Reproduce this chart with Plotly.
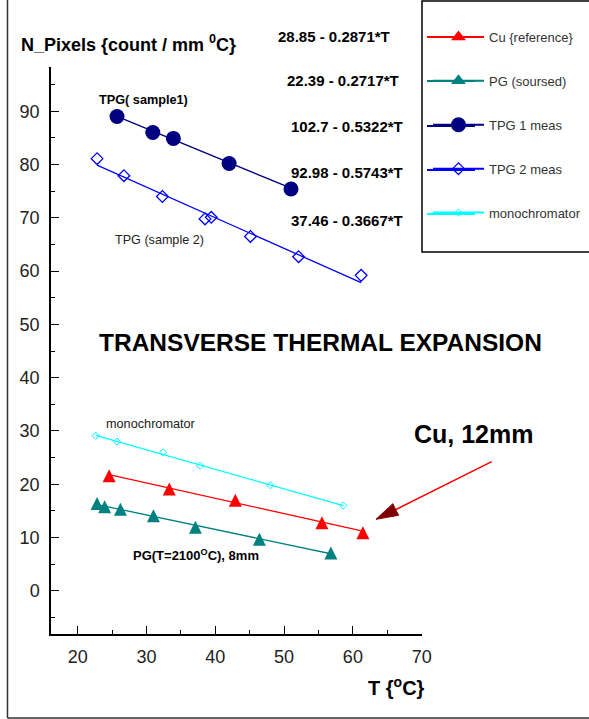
import plotly.graph_objects as go

# ---------------- data ----------------
cu_T = [24.55, 33.3, 42.9, 55.5, 61.45]
cu_N = [21.6, 19.1, 17.0, 12.8, 10.9]
pg_T = [22.8, 23.9, 26.2, 31.0, 37.1, 46.4, 56.8]
pg_N = [16.4, 15.8, 15.3, 14.1, 11.95, 9.7, 7.1]
tpg1_T = [25.7, 30.9, 33.9, 42.0, 51.0]
tpg1_N = [89.0, 86.0, 84.9, 80.2, 75.4]
tpg2_T = [22.8, 26.7, 32.3, 38.5, 39.4, 45.1, 52.1, 61.2]
tpg2_N = [81.1, 77.9, 74.0, 69.8, 70.1, 66.5, 62.7, 59.2]
mono_T = [22.6, 25.7, 32.4, 37.8, 48.0, 58.6]
mono_N = [29.1, 28.0, 26.0, 23.5, 19.8, 16.0]

series_names = ["Cu {reference}", "PG (soursed)", "TPG 1 meas", "TPG 2 meas", "monochromator"]
fit_intercepts = [28.85, 22.39, 102.7, 92.98, 37.46]
fit_slopes = [0.2871, 0.2717, 0.5322, 0.5743, 0.3667]
fit_labels = ["28.85 - 0.2871*T", "22.39 - 0.2717*T", "102.7 - 0.5322*T",
              "92.98 - 0.5743*T", "37.46 - 0.3667*T"]

x_tickvals = [20, 30, 40, 50, 60, 70]
y_tickvals = [0, 10, 20, 30, 40, 50, 60, 70, 80, 90]

# ---------------- styling ----------------
FONT = "Liberation Sans, Arial, sans-serif"
L, R, T, B = 51, 422, 67, 634
W, H = R - L, B - T


def px(x):
    return (x - L) / W


def py(y):
    return (B - y) / H


styles = [
    dict(color="#FF0000", symbol="arrow-down", size=13, fill="#FF0000", lw=0, so=6.5),
    dict(color="#008080", symbol="arrow-down", size=13, fill="#008080", lw=0, so=6.5),
    dict(color="#000080", symbol="circle", size=15, fill="#000080", lw=0, so=0),
    dict(color="#0000FF", symbol="diamond-open", size=9, fill="#0000FF", lw=1.3, so=0),
    dict(color="#00FFFF", symbol="diamond-open", size=5.5, fill="#00FFFF", lw=1, so=0),
]
all_T = [cu_T, pg_T, tpg1_T, tpg2_T, mono_T]
all_N = [cu_N, pg_N, tpg1_N, tpg2_N, mono_N]
legend_rows = [37, 81, 126, 170, 214]

fig = go.Figure()
shapes = []
for i in range(5):
    st = styles[i]
    t0, t1 = min(all_T[i]), max(all_T[i])
    a, b = fit_intercepts[i], fit_slopes[i]
    fig.add_trace(go.Scatter(
        x=[t0, t1], y=[a - b * t0, a - b * t1], mode="lines",
        line=dict(color=st["color"], width=1.3), showlegend=False, hoverinfo="skip"))
    mk = dict(symbol=st["symbol"], size=st["size"], color=st["fill"],
              line=dict(color=st["color"], width=st["lw"]))
    leg_mk = dict(mk)
    if st["so"]:
        mk["angle"] = 180
        mk["standoff"] = st["so"]
        leg_mk["symbol"] = "triangle-up"
        leg_mk["size"] = 13
    fig.add_trace(go.Scatter(x=all_T[i], y=all_N[i], mode="markers",
                             showlegend=False, marker=mk))
    # legend entry
    fig.add_trace(go.Scatter(
        x=[None], y=[None], mode="lines+markers", name=series_names[i],
        legendgroup="g%d" % i, line=dict(color=st["color"], width=2), marker=leg_mk))
    # longer legend sample line
    shapes.append(dict(type="line", xref="paper", yref="paper", layer="below",
                       x0=px(427), x1=px(475), y0=py(legend_rows[i]), y1=py(legend_rows[i]),
                       line=dict(color=st["color"], width=2)))

ann = []


def add_text(text, x, y, size, bold=False, xanchor="center", color="#000000"):
    if bold:
        text = "<b>" + text + "</b>"
    ann.append(dict(text=text, x=px(x), y=py(y), xref="paper", yref="paper",
                    xanchor=xanchor, yanchor="middle", showarrow=False,
                    font=dict(family=FONT, size=size, color=color)))


add_text("N_Pixels {count / mm <sup>0</sup>C}", 19, 43, 18, bold=True, xanchor="left")
eq_pos = [(392, 37), (401, 80), (405, 126), (405, 172), (405, 220)]
for lab, (ex, ey) in zip(fit_labels, eq_pos):
    add_text(lab, ex, ey, 15, bold=True, xanchor="right")
add_text("TPG( sample1)", 143, 100, 12.7, bold=True)
add_text("TPG (sample 2)", 159, 240, 12.6, color="#222222")
add_text("TRANSVERSE THERMAL EXPANSION", 320, 342, 24.5, bold=True)
add_text("monochromator", 151, 424, 12.7, color="#222222")
add_text("PG(T=2100<sup>O</sup>C), 8mm", 196, 555, 13, bold=True)
add_text("Cu, 12mm", 473, 434, 25, bold=True)
add_text("T {<sup>o</sup>C}", 396, 686, 20, bold=True)

# arrow pointing to the Cu line
tip = (376, 519.3)
shapes += [
    dict(type="line", xref="paper", yref="paper", x0=px(491.7), y0=py(461.7),
         x1=px(396), y1=py(509.5), line=dict(color="#FF0000", width=1.5)),
    dict(type="path", xref="paper", yref="paper",
         path="M %f,%f L %f,%f L %f,%f Z" % (px(tip[0]), py(tip[1]), px(398.6), py(515.3),
                                             px(392.8), py(503.7)),
         fillcolor="#800000", line=dict(color="#800000", width=1)),
    # legend frame
    dict(type="rect", xref="paper", yref="paper", x0=px(422), x1=px(620), y0=py(252),
         y1=py(1), line=dict(color="#000000", width=1.5)),
    # outer frame (left and bottom)
    dict(type="line", xref="paper", yref="paper", x0=px(7.5), x1=px(7.5), y0=py(718),
         y1=py(-5), line=dict(color="#333333", width=1.5)),
    dict(type="line", xref="paper", yref="paper", x0=px(7.5), x1=px(620), y0=py(718),
         y1=py(718), line=dict(color="#333333", width=1.5)),
]

axis_common = dict(showline=True, linecolor="#000000", linewidth=1.5, showgrid=False,
                   zeroline=False, ticks="inside", ticklen=8, tickwidth=1.2,
                   tickcolor="#000000", ticklabelstandoff=6,
                   tickfont=dict(family=FONT, size=18, color="#222222"))

fig.update_layout(
    width=589, height=719,
    margin=dict(l=L, r=589 - R, t=T, b=719 - B, autoexpand=False),
    paper_bgcolor="white", plot_bgcolor="white",
    font=dict(family=FONT),
    xaxis=dict(range=[16.1, 70.05], tickvals=x_tickvals,
               minor=dict(dtick=5, tick0=0, ticks="inside", ticklen=4,
                          tickcolor="#000000", tickwidth=1.2), **axis_common),
    yaxis=dict(range=[-8.1, 98.3], tickvals=y_tickvals,
               minor=dict(dtick=5, tick0=0, ticks="inside", ticklen=4,
                          tickcolor="#000000", tickwidth=1.2), **axis_common),
    legend=dict(x=px(428), y=py(22), xref="paper", yref="paper", xanchor="left",
                yanchor="top", bgcolor="rgba(0,0,0,0)", borderwidth=0,
                tracegroupgap=24, itemwidth=51,
                font=dict(family=FONT, size=13, color="#333333")),
    annotations=ann,
    shapes=shapes,
)

fig.write_html("out.html", config={"displayModeBar": False},
               post_script="document.body.style.margin='0px';")
